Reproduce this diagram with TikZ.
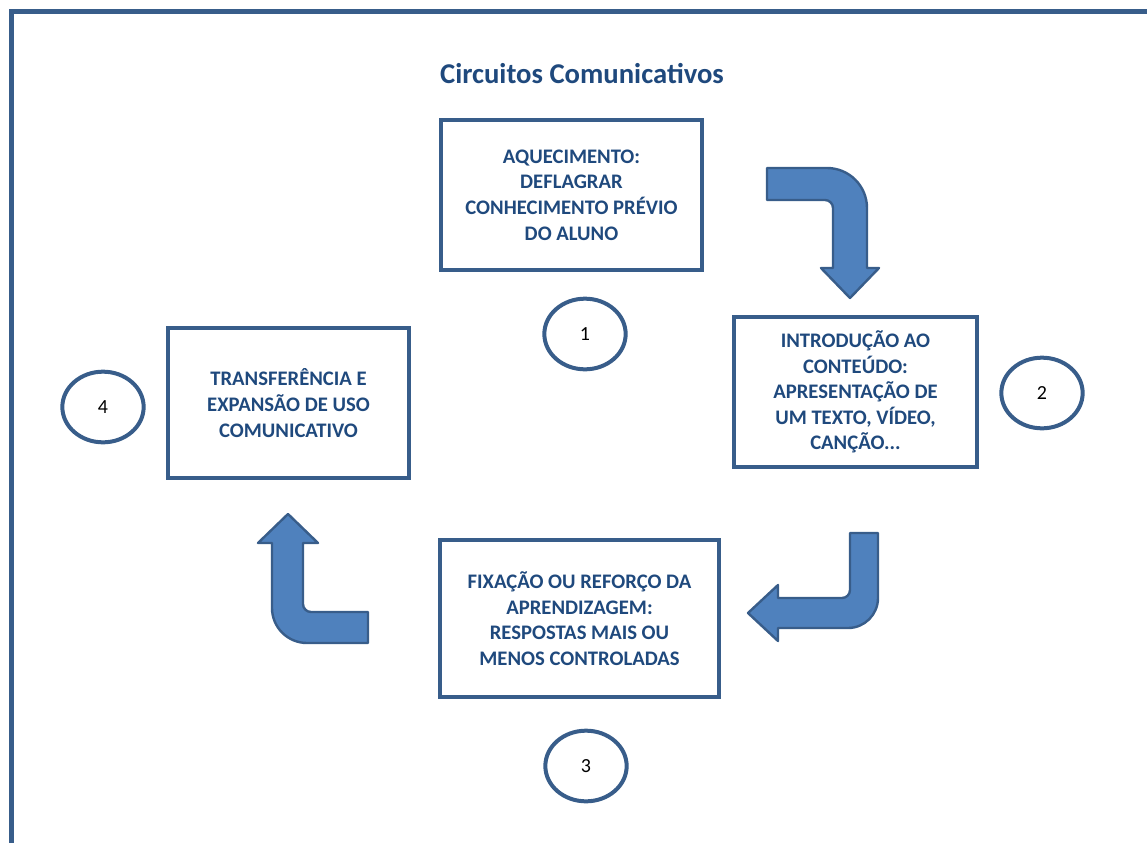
\documentclass[tikz,border=0pt]{standalone}
\usepackage{fontspec}
\setmainfont{Carlito}
\usepackage{tikz}
\usetikzlibrary{shapes.geometric}

\definecolor{frameblue}{HTML}{385D8A}
\definecolor{fillblue}{HTML}{4F81BD}
\definecolor{textblue}{HTML}{1F497D}

\tikzset{
  stage/.style={draw=frameblue, line width=3pt, rectangle, align=center,
    text=textblue, font=\bfseries\fontsize{15.5}{19.2}\selectfont},
  number/.style={draw=frameblue, line width=3pt, ellipse, minimum width=61pt,
    minimum height=53pt, inner sep=0pt, font=\fontsize{15}{18}\selectfont},
  bentarrow/.style={draw=frameblue, fill=fillblue, line width=1.8pt, line join=round}
}

\begin{document}
\begin{tikzpicture}
	[x=0.75pt, y=-0.75pt]
   \useasboundingbox (0,0) rectangle (1147,843);
   % outer frame, open towards the right and bottom
   \draw[frameblue, line width=3.75pt] (11,843) -- (11,11) -- (1147,11);

   \node[text=textblue, font=\bfseries\fontsize{21.5}{25}\selectfont] (title) at (582,74) {Circuitos Comunicativos};

   \node[stage, minimum width=195.75pt, minimum height=112.5pt] (warmup) at (571.5,195)
      {AQUECIMENTO:\\ DEFLAGRAR\\ CONHECIMENTO PRÉVIO\\ DO ALUNO};
   \node[stage, minimum width=182.25pt, minimum height=112.5pt] (intro) at (855.5,392)
      {INTRODUÇÃO AO\\ CONTEÚDO:\\ APRESENTAÇÃO DE\\ UM TEXTO, VÍDEO,\\ CANÇÃO...};
   \node[stage, minimum width=209.25pt, minimum height=117.75pt] (practice) at (579.5,618.5)
      {FIXAÇÃO OU REFORÇO DA\\ APRENDIZAGEM:\\ RESPOSTAS MAIS OU\\ MENOS CONTROLADAS};
   \node[stage, minimum width=180.75pt, minimum height=112.5pt] (transfer) at (288.5,403)
      {TRANSFERÊNCIA E\\ EXPANSÃO DE USO\\ COMUNICATIVO};

   \node[number] (n1) at (585,334) {1};
   \node[number] (n2) at (1042,393) {2};
   \node[number] (n3) at (586,766) {3};
   \node[number] (n4) at (103,407) {4};

   % bent arrows between the stages
   \draw[bentarrow] (767,168) -- (827,168) arc[start angle=270, end angle=360, radius=40]
      -- (867,268) -- (879,268) -- (850,298) -- (821,268) -- (833,268)
      -- (833,208) arc[start angle=360, end angle=270, radius=8] -- (767,200) -- cycle;
   \draw[bentarrow] (850,533) -- (878,533) -- (878,598) arc[start angle=0, end angle=90, radius=30]
      -- (778,628) -- (778,641) -- (748,613) -- (778,585) -- (778,598)
      -- (842,598) arc[start angle=90, end angle=0, radius=8] -- cycle;
   \draw[bentarrow] (368,643) -- (307,643) arc[start angle=90, end angle=180, radius=35]
      -- (272,543) -- (258,543) -- (288,514) -- (318,543) -- (303,543)
      -- (303,604) arc[start angle=180, end angle=90, radius=8] -- (368,612) -- cycle;
\end{tikzpicture}
\end{document}
